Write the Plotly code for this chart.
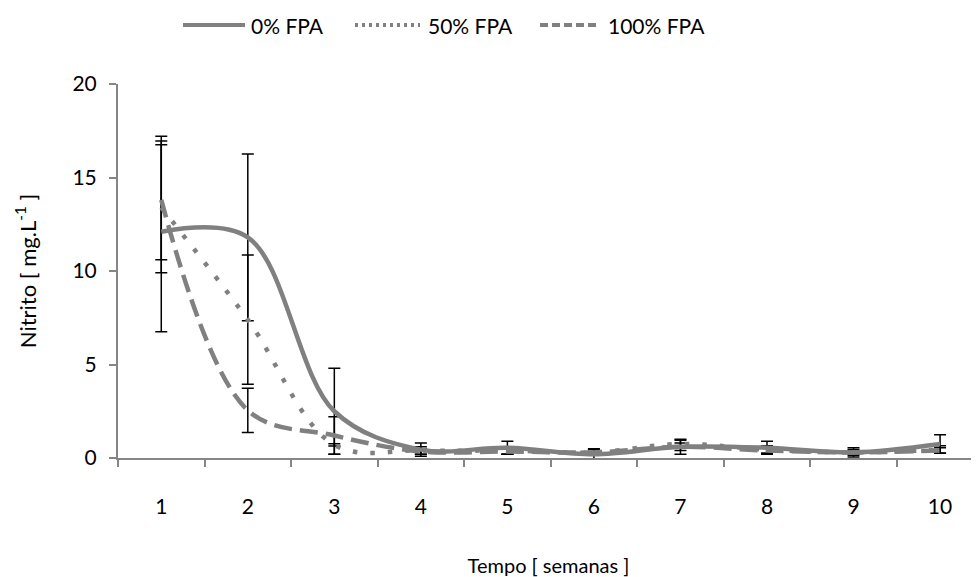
import plotly.graph_objects as go

# ---- data ----
semanas = [1, 2, 3, 4, 5, 6, 7, 8, 9, 10]
fpa0 = [12.1, 11.8, 2.5, 0.45, 0.55, 0.2, 0.6, 0.55, 0.3, 0.75]
fpa0_err_plus = [5.1, 4.46, 2.3, 0.35, 0.35, 0.3, 0.4, 0.35, 0.25, 0.5]
fpa0_err_minus = [5.35, 4.46, 2.3, 0.35, 0.35, 0.3, 0.4, 0.35, 0.25, 0.5]
fpa50 = [13.4, 7.4, 0.7, 0.4, 0.4, 0.3, 0.75, 0.45, 0.3, 0.45]
fpa50_err_plus = [3.55, 3.46, 0.06, 0.2, 0.2, 0.15, 0.2, 0.2, 0.15, 0.2]
fpa50_err_minus = [3.5, 3.46, 0.06, 0.2, 0.2, 0.15, 0.2, 0.2, 0.15, 0.2]
fpa100 = [13.8, 2.55, 1.2, 0.35, 0.35, 0.3, 0.6, 0.4, 0.3, 0.4]
fpa100_err_plus = [2.95, 1.18, 1.0, 0.15, 0.15, 0.15, 0.2, 0.15, 0.1, 0.15]
fpa100_err_minus = [3.2, 1.18, 1.0, 0.15, 0.15, 0.15, 0.2, 0.15, 0.1, 0.15]
series_names = ["0% FPA", "50% FPA", "100% FPA"]
y_ticks = [0, 5, 10, 15, 20]

GRAY = "#808080"
AXIS = "#868686"
FONT = "Lato"

# page body has an 8px margin; figure is sized/placed to compensate
OFF = 8
W, H = 979 - OFF, 577 - OFF
L, R, T, B = 118 - OFF, 0, 84 - OFF, 577 - 458
PW = W - L - R
PH = H - T - B

fig = go.Figure()

series = [(fpa0, fpa0_err_plus, fpa0_err_minus, "solid"),
          (fpa50, fpa50_err_plus, fpa50_err_minus, "4.5px,13px"),
          (fpa100, fpa100_err_plus, fpa100_err_minus, "18px,8px")]

# error bars (drawn first, under the lines)
for (vals, ep, em, _), name in zip(series, series_names):
    fig.add_trace(go.Scatter(
        x=semanas, y=vals, mode="markers", name=name,
        marker=dict(color="rgba(0,0,0,0)", size=1),
        error_y=dict(type="data", array=ep, arrayminus=em, symmetric=False,
                     visible=True, color="black", thickness=1.5, width=6),
        showlegend=False, hoverinfo="skip"))

# smoothed lines
for (vals, ep, em, dash), name in zip(series, series_names):
    fig.add_trace(go.Scatter(
        x=semanas, y=vals, mode="lines", name=name,
        line=dict(color=GRAY, width=4.5, dash=dash,
                  shape="spline", smoothing=1),
        showlegend=False))

# manual legend (line samples + labels), positions in page pixels
def px_x(p):
    return (p - OFF - L) / PW

def px_y(p):
    return (H - B - (p - OFF)) / PH

leg_y = px_y(25)
leg_items = [(183, 245, "solid", 249),
             (355, 420, "3px,4px", 426),
             (540, 600, "8px,4px", 606)]
shapes = []
annotations = []
for (x0, x1, dash, tx), name in zip(leg_items, series_names):
    shapes.append(dict(type="line", xref="paper", yref="paper",
                       x0=px_x(x0), x1=px_x(x1), y0=leg_y, y1=leg_y,
                       line=dict(color=GRAY, width=4, dash=dash)))
    annotations.append(dict(xref="paper", yref="paper", x=px_x(tx), y=leg_y,
                            xanchor="left", yanchor="middle", showarrow=False,
                            text=name, font=dict(family=FONT, size=21, color="black")))

fig.update_layout(
    width=W, height=H,
    margin=dict(l=L, r=R, t=T, b=B, autoexpand=False),
    plot_bgcolor="white", paper_bgcolor="white",
    font=dict(family=FONT, size=20, color="black"),
    showlegend=False,
    shapes=shapes, annotations=annotations,
    xaxis=dict(
        range=[0.5, 10.45], tickvals=semanas, ticktext=[str(s) for s in semanas],
        ticks="", showline=True, linecolor=AXIS, linewidth=2,
        showgrid=False, zeroline=False, ticklabelstandoff=29,
        minor=dict(tickvals=[0.5 + i for i in range(11)], ticks="outside",
                   ticklen=7, tickcolor=AXIS, tickwidth=2),
        title=dict(text="Tempo [ semanas ]", standoff=50,
                   font=dict(family=FONT, size=20)),
        tickfont=dict(family=FONT, size=21, color="black"),
        automargin=False,
    ),
    yaxis=dict(
        range=[0, 20], tickvals=y_ticks, ticks="outside", ticklen=7,
        tickcolor=AXIS, tickwidth=2, showline=True, linecolor=AXIS, linewidth=2,
        showgrid=False, zeroline=False, ticklabelstandoff=8,
        title=dict(text="Nitrito [ mg.L<sup>-1</sup> ]", standoff=30,
                   font=dict(family=FONT, size=22)),
        tickfont=dict(family=FONT, size=21, color="black"),
        automargin=False,
    ),
)

fig.write_html("out.html")
